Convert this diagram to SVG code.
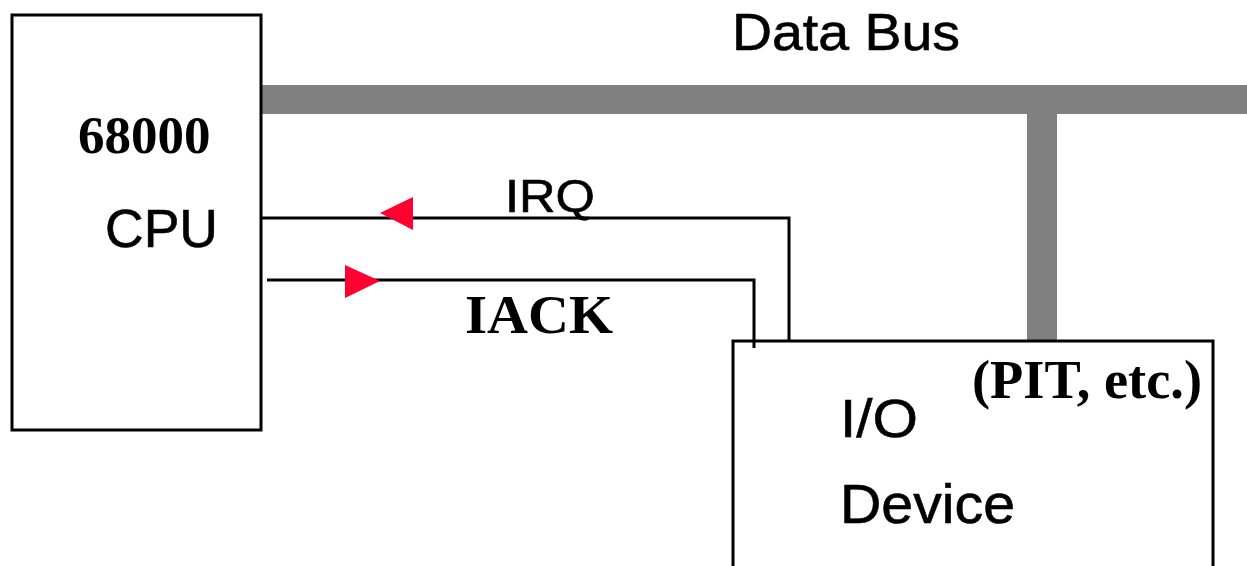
<svg xmlns="http://www.w3.org/2000/svg" width="1247" height="566" viewBox="0 0 1247 566">
  <style>
    .box { fill: #fff; stroke: #000; stroke-width: 3; }
    .bus { fill: #808080; }
    .wire { fill: none; stroke: #000; stroke-width: 3; }
    .head { fill: #ff0030; }
    .sans { font-family: "Liberation Sans", Arial, sans-serif; fill: #000; stroke: #000; stroke-width: 0.6; }
    .serif { font-family: "Liberation Serif", "Times New Roman", serif; font-weight: bold; fill: #000; }
  </style>
  <rect width="1247" height="566" fill="#fff"/>

  <!-- data bus with its drop to the I/O device -->
  <g id="data-bus">
    <rect class="bus" x="262" y="85" width="985" height="29"/>
    <rect class="bus" x="1027" y="114" width="30" height="228"/>
    <text class="sans" x="732" y="50" font-size="52" textLength="228" lengthAdjust="spacingAndGlyphs">Data Bus</text>
  </g>

  <!-- processor -->
  <g id="cpu">
    <rect class="box" x="12" y="15" width="249" height="415"/>
    <text class="serif" x="78" y="153" font-size="53">68000</text>
    <text class="sans" x="105" y="247" font-size="54" textLength="113" lengthAdjust="spacingAndGlyphs">CPU</text>
  </g>

  <!-- peripheral -->
  <g id="io-device">
    <rect class="box" x="733" y="341" width="480" height="240"/>
    <text class="sans" x="840" y="437" font-size="54" textLength="78" lengthAdjust="spacingAndGlyphs">I/O</text>
    <text class="sans" x="840" y="523" font-size="55" textLength="175" lengthAdjust="spacingAndGlyphs">Device</text>
    <text class="serif" x="972" y="398" font-size="54" textLength="230" lengthAdjust="spacingAndGlyphs">(PIT, etc.)</text>
  </g>

  <!-- interrupt request / acknowledge lines -->
  <g id="connectors">
    <polyline class="wire" points="262,218 789,218 789,341"/>
    <polygon class="head" points="380,213 413,197 413,230"/>
    <text class="sans" x="505" y="212" font-size="46" textLength="90" lengthAdjust="spacingAndGlyphs">IRQ</text>

    <polyline class="wire" points="267,280 754,280 754,348"/>
    <polygon class="head" points="345,265 380,281 345,298"/>
    <text class="serif" x="465" y="333" font-size="55" textLength="148" lengthAdjust="spacingAndGlyphs">IACK</text>
  </g>
</svg>
